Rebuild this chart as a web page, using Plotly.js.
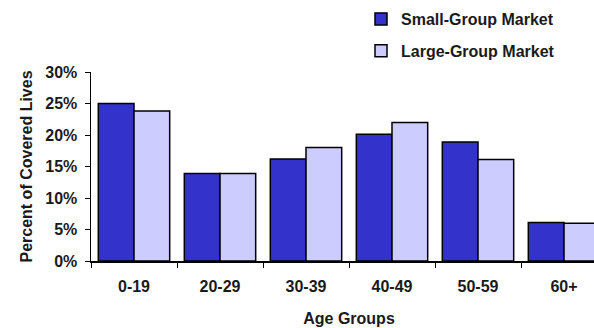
<!DOCTYPE html>
<html>
<head>
<meta charset="utf-8">
<script src="https://cdn.plot.ly/plotly-3.0.1.min.js"></script>
<style>
html,body{margin:0;padding:0;overflow:hidden;background:#fff;width:594px;height:328px;}
#chart{width:620px;height:328px;}
</style>
</head>
<body>
<div id="chart"></div>
<script>
const categories = ["0-19", "20-29", "30-39", "40-49", "50-59", "60+"];
const smallGroup = [0.250, 0.139, 0.162, 0.201, 0.189, 0.061];
const largeGroup = [0.238, 0.139, 0.180, 0.220, 0.161, 0.060];
const seriesNames = ["Small-Group Market", "Large-Group Market"];
const yTickVals = [0, 0.05, 0.10, 0.15, 0.20, 0.25, 0.30];
const yTickText = ["0%", "5%", "10%", "15%", "20%", "25%", "30%"];

const font = {family: "Liberation Sans, Arial, sans-serif", size: 16, color: "#1a1a1a", weight: "bold"};

const traces = [
  {type: "bar", name: seriesNames[0], x: categories, y: smallGroup, legendgroup: "a",
   marker: {color: "#3333CC", line: {color: "#000", width: 1.5}}},
  {type: "bar", name: seriesNames[1], x: categories, y: largeGroup, legendgroup: "b",
   marker: {color: "#CCCCFF", line: {color: "#000", width: 1.5}}}
];

const layout = {
  width: 620, height: 328,
  margin: {l: 91, r: 13, t: 72, b: 67, autoexpand: false},
  paper_bgcolor: "#fff", plot_bgcolor: "#fff",
  font: font,
  barmode: "group", bargap: 0.17, bargroupgap: 0,
  showlegend: true,
  legend: {xref: "container", yref: "container", x: 361/620, y: 1 - 2/328,
           xanchor: "left", yanchor: "top", font: font, tracegroupgap: 8,
           bgcolor: "rgba(0,0,0,0)"},
  xaxis: {type: "category", range: [-0.5, 5.5], showline: true, linecolor: "#000", linewidth: 1.5,
          ticks: "outside", ticklen: 5, tickcolor: "#000", tickson: "boundaries", tickangle: 0,
          ticklabelstandoff: 10, showgrid: false, zeroline: false, tickfont: font,
          title: {text: "Age Groups", font: font, standoff: 19}},
  yaxis: {range: [0, 0.30], tickvals: yTickVals, ticktext: yTickText, showline: true,
          linecolor: "#000", linewidth: 1.5, ticks: "outside", ticklen: 5, tickcolor: "#000",
          ticklabelstandoff: 4, showgrid: false, zeroline: false, tickfont: font,
          title: {text: "Percent of Covered Lives", font: font, standoff: 8}}
};

Plotly.newPlot("chart", traces, layout, {displayModeBar: false, staticPlot: true});
</script>
</body>
</html>
